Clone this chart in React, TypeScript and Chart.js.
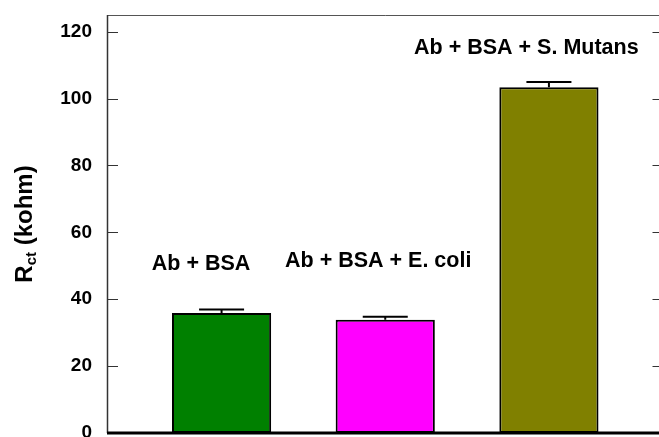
import React, { useEffect, useRef } from "react";
import { Chart, registerables } from "chart.js";

Chart.register(...registerables);

const categories = ["Ab + BSA", "Ab + BSA + E. coli", "Ab + BSA + S. Mutans"];
const values = [35.9, 33.9, 103.4];
const errors = [1.0, 0.9, 1.6];
const colors = ["#008000", "#ff00ff", "#808000"];
const yTicks = [0, 20, 40, 60, 80, 100, 120];
// label anchor points in data units (x = category position, y = value axis)
const labelX = [-0.125, 0.957, 1.862];
const labelY = [50.4, 51.3, 115.2];

const FONT = "'Liberation Sans', Arial, Helvetica, sans-serif";

export default function App() {
  const ref = useRef<HTMLCanvasElement | null>(null);

  useEffect(() => {
    const canvas = ref.current!;
    const overlay = {
      id: "overlay",
      afterDatasetsDraw(chart: any) {
        const ctx = chart.ctx as CanvasRenderingContext2D;
        const xs = chart.scales.x;
        const ys = chart.scales.y;
        const area = chart.chartArea;
        ctx.save();
        // error bars
        ctx.strokeStyle = "#000";
        ctx.lineWidth = 2;
        values.forEach((v, i) => {
          const cx = xs.getPixelForValue(i);
          const yTop = ys.getPixelForValue(v + errors[i]);
          const yv = ys.getPixelForValue(v);
          const half = (xs.getPixelForValue(0.1375) - xs.getPixelForValue(0));
          ctx.beginPath();
          ctx.moveTo(cx, yv);
          ctx.lineTo(cx, yTop);
          ctx.moveTo(cx - half, yTop);
          ctx.lineTo(cx + half, yTop);
          ctx.stroke();
        });
        // frame
        ctx.strokeStyle = "#555";
        ctx.lineWidth = 1;
        ctx.beginPath();
        ctx.moveTo(area.left, area.top + 0.5);
        ctx.lineTo(area.right, area.top + 0.5);
        ctx.moveTo(area.right - 0.5, area.top);
        ctx.lineTo(area.right - 0.5, area.bottom);
        ctx.stroke();
        ctx.strokeStyle = "#333";
        ctx.lineWidth = 1.5;
        ctx.beginPath();
        ctx.moveTo(area.left + 0.5, area.top);
        ctx.lineTo(area.left + 0.5, area.bottom);
        ctx.stroke();
        ctx.strokeStyle = "#000";
        ctx.lineWidth = 3;
        ctx.beginPath();
        ctx.moveTo(area.left, area.bottom);
        ctx.lineTo(area.right, area.bottom);
        ctx.stroke();
        // inward ticks
        ctx.strokeStyle = "#333";
        ctx.lineWidth = 1;
        yTicks.forEach((t) => {
          if (t === 0) return;
          const py = Math.round(ys.getPixelForValue(t)) + 0.5;
          ctx.beginPath();
          ctx.moveTo(area.left, py);
          ctx.lineTo(area.left + 11, py);
          ctx.moveTo(area.right - 11, py);
          ctx.lineTo(area.right, py);
          ctx.stroke();
        });
        // bar labels
        ctx.fillStyle = "#000";
        ctx.font = `bold 21.5px ${FONT}`;
        ctx.textAlign = "center";
        ctx.textBaseline = "middle";
        categories.forEach((c, i) => {
          ctx.fillText(c, xs.getPixelForValue(labelX[i]), ys.getPixelForValue(labelY[i]));
        });
        // y title with subscript
        const main = `bold 24px ${FONT}`;
        const sub = `bold 15px ${FONT}`;
        ctx.font = main;
        const wR = ctx.measureText("R").width;
        const wRest = ctx.measureText(" (kohm)").width;
        ctx.font = sub;
        const wSub = ctx.measureText("ct").width;
        const total = wR + wSub + wRest;
        const cy = (area.top + area.bottom) / 2;
        ctx.translate(32, cy);
        ctx.rotate(-Math.PI / 2);
        ctx.textAlign = "left";
        ctx.textBaseline = "alphabetic";
        let x0 = -total / 2;
        ctx.font = main;
        ctx.fillText("R", x0, 0);
        x0 += wR;
        ctx.font = sub;
        ctx.fillText("ct", x0, 4);
        x0 += wSub;
        ctx.font = main;
        ctx.fillText(" (kohm)", x0, 0);
        ctx.restore();
      },
    };

    const chart = new Chart(canvas, {
      type: "bar",
      data: {
        datasets: [
          {
            data: values.map((v, i) => ({ x: i, y: v })),
            backgroundColor: colors,
            borderColor: "#000",
            borderWidth: 2,
            borderSkipped: false,
            barPercentage: 0.606,
            categoryPercentage: 1,
          },
        ],
      },
      options: {
        responsive: false,
        animation: false,
        events: [],
        layout: { padding: { top: 15, right: 1.5, bottom: 4, left: 0 } },
        plugins: { legend: { display: false }, tooltip: { enabled: false }, title: { display: false } },
        scales: {
          x: {
            type: "linear",
            min: -0.7,
            max: 2.7,
            offset: false,
            grid: { offset: false },
            display: false,
            afterBuildTicks: (scale: any) => {
              scale.ticks = categories.map((_, i) => ({ value: i }));
            },
          },
          y: {
            min: 0,
            max: 125,
            grid: { display: false },
            border: { display: false },
            afterBuildTicks: (scale: any) => {
              scale.ticks = yTicks.map((v) => ({ value: v }));
            },
            afterFit: (scale: any) => {
              scale.width = 107;
              scale.paddingTop = 0;
              scale.paddingBottom = 0;
            },
            ticks: {
              padding: 7,
              color: "#000",
              font: { family: FONT, size: 19, weight: "bold" },
            },
          },
        },
      },
      plugins: [overlay],
    });
    return () => chart.destroy();
  }, []);

  return (
    <div style={{ position: "fixed", left: 0, top: 0, width: 659, height: 437, overflow: "hidden", background: "#fff" }}>
      <canvas ref={ref} width={665} height={437} style={{ display: "block" }} />
    </div>
  );
}
